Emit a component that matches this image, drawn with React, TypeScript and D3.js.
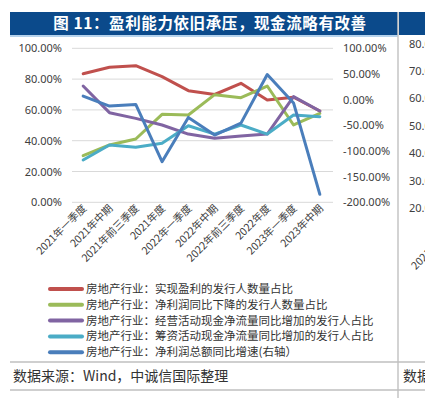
import React from "react";
import * as d3 from "d3";

const categories = [
  "2021年一季度",
  "2021年中期",
  "2021年前三季度",
  "2021年度",
  "2022年一季度",
  "2022年中期",
  "2022年前三季度",
  "2022年度",
  "2023年一季度",
  "2023年中期",
];

// left axis series (%)
const profitable = [83.5, 87.7, 88.7, 81.6, 72.5, 70.0, 77.3, 66.4, 68.2, 59.3];
const profitDown = [30.3, 37.2, 41.1, 57.1, 56.7, 69.9, 67.9, 75.5, 50.2, 57.8];
const opCashUp = [75.5, 58.2, 54.5, 50.2, 44.3, 41.6, 43.0, 44.3, 68.6, 59.3];
const finCashUp = [27.5, 37.2, 35.7, 38.3, 49.7, 44.3, 50.2, 44.3, 56.7, 55.6];
// right axis series (%)
const profitGrowth = [6.8, -12.6, -9.3, -121, -34.6, -69, -45.7, 49, -6.4, -184.4];

const leftTicks = [0, 20, 40, 60, 80, 100];
const rightTicks = [-200, -150, -100, -50, 0, 50, 100];
const sideTicks = ["80.0", "70.0", "60.0", "50.0", "40.0", "30.0", "20.0"];

const seriesNames = [
  "房地产行业：实现盈利的发行人数量占比",
  "房地产行业：净利润同比下降的发行人数量占比",
  "房地产行业：经营活动现金净流量同比增加的发行人占比",
  "房地产行业：筹资活动现金净流量同比增加的发行人占比",
  "房地产行业：净利润总额同比增速(右轴）",
];
const colors = ["#c0504d", "#9bbb59", "#8064a2", "#4bacc6", "#4a7ebb"];

const font = "'Noto Sans CJK SC', 'Noto Sans', sans-serif";

export default function App() {
  const width = 425;
  const height = 398;

  const x = d3.scalePoint<string>().domain(categories).range([70, 333]).padding(0.5);
  const yL = d3.scaleLinear().domain([0, 100]).range([202.3, 48.3]);
  const yR = d3.scaleLinear().domain([-200, 100]).range([202.3, 48.3]);

  const lineL = d3
    .line<number>()
    .x((_, i) => x(categories[i]) as number)
    .y((d) => yL(d));
  const lineR = d3
    .line<number>()
    .x((_, i) => x(categories[i]) as number)
    .y((d) => yR(d));

  const paths = [
    lineL(profitable),
    lineL(profitDown),
    lineL(opCashUp),
    lineL(finCashUp),
    lineR(profitGrowth),
  ];

  const sideY = d3.scaleLinear().domain([80, 20]).range([43.5, 208]);

  return (
    <svg
      width={width}
      height={height}
      style={{ position: "absolute", left: 0, top: 0, background: "#fff" }}
      fontFamily={font}
    >
      {/* title bars */}
      <rect x={10} y={12} width={388} height={23} fill="#0b4a8b" />
      <rect x={399} y={12} width={26} height={23} fill="#0b4a8b" />
      <text
        x={210}
        y={29}
        textAnchor="middle"
        fill="#fff"
        fontSize={15.5}
        fontWeight="bold"
        letterSpacing={0.6}
      >
        图 11：盈利能力依旧承压，现金流略有改善
      </text>
      <line x1={10} x2={398} y1={36} y2={36} stroke="#9dc3e6" strokeWidth={1.5} />
      <line x1={398} x2={398} y1={12} y2={398} stroke="#c4c4c4" strokeWidth={1.5} />

      {/* grid */}
      {leftTicks.map((t) => (
        <line key={t} x1={72} x2={333} y1={yL(t)} y2={yL(t)} stroke="#d9d9d9" strokeWidth={1} />
      ))}
      {leftTicks.map((t) => (
        <text
          key={"l" + t}
          x={62}
          y={yL(t) + 4}
          textAnchor="end"
          fontSize={11}
          fill="#404040"
          fontFamily="'Noto Sans', sans-serif"
        >
          {t.toFixed(2) + "%"}
        </text>
      ))}
      {rightTicks.map((t) => (
        <text
          key={"r" + t}
          x={343}
          y={yR(t) + 4}
          fontSize={11}
          fill="#404040"
          fontFamily="'Noto Sans', sans-serif"
        >
          {t.toFixed(2) + "%"}
        </text>
      ))}

      {/* x labels */}
      {categories.map((c) => (
        <text
          key={c}
          transform={`translate(${(x(c) as number) + 4},${209}) rotate(-45)`}
          textAnchor="end"
          fontSize={10.5}
          fill="#404040"
        >
          {c}
        </text>
      ))}

      {/* series */}
      {paths.map((p, i) => (
        <path
          key={i}
          d={p ?? ""}
          fill="none"
          stroke={colors[i]}
          strokeWidth={3}
          strokeLinejoin="round"
          strokeLinecap="round"
        />
      ))}

      {/* legend */}
      {seriesNames.map((n, i) => (
        <g key={n} transform={`translate(0,${289 + i * 15.8})`}>
          <line x1={50} x2={82} y1={0} y2={0} stroke={colors[i]} strokeWidth={4} strokeLinecap="round" />
          <text x={86} y={4} fontSize={11.5} fill="#333">
            {n}
          </text>
        </g>
      ))}

      {/* footer */}
      <line x1={10} x2={425} y1={362} y2={362} stroke="#bfbfbf" strokeWidth={1.5} />
      <line x1={10} x2={425} y1={390} y2={390} stroke="#bfbfbf" strokeWidth={1.5} />
      <text x={13} y={381} fontSize={14} fill="#333">
        数据来源：Wind，中诚信国际整理
      </text>
      <text x={403} y={381} fontSize={14} fill="#333">
        数据来源
      </text>

      {/* neighbouring chart fragment */}
      {sideTicks.map((t) => (
        <text
          key={t}
          x={409}
          y={sideY(+t) + 4}
          fontSize={11}
          fill="#404040"
          fontFamily="'Noto Sans', sans-serif"
        >
          {t}
        </text>
      ))}
      <text
        transform="translate(462,224) rotate(-45)"
        textAnchor="end"
        fontSize={10.5}
        fill="#404040"
      >
        2021年一季度
      </text>
    </svg>
  );
}
